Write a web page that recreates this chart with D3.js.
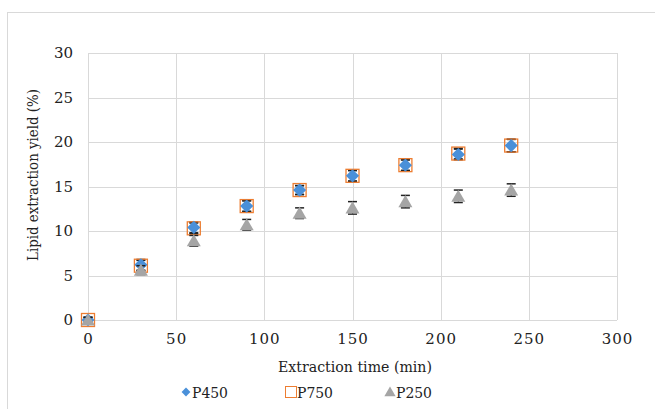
<!DOCTYPE html>
<html><head><meta charset="utf-8">
<script src="https://cdn.jsdelivr.net/npm/d3@7"></script>
<style>body{margin:0;background:#fff} svg text{font-family:"DejaVu Serif","Liberation Serif",serif;}</style>
</head><body><svg id="c" width="655" height="409"></svg>
<script>
const times = [0, 30, 60, 90, 120, 150, 180, 210, 240];
const p450 = [0, 6.2, 10.4, 12.8, 14.6, 16.2, 17.4, 18.6, 19.6];
const p450Err = [0.3, 0.6, 0.6, 0.6, 0.5, 0.6, 0.6, 0.6, 0.7];
const p750 = [0, 6.1, 10.3, 12.8, 14.6, 16.2, 17.4, 18.7, 19.6];
const p750Err = [0.3, 0.6, 0.6, 0.6, 0.5, 0.6, 0.6, 0.6, 0.7];
const p250 = [0, 5.6, 8.9, 10.7, 12.0, 12.6, 13.3, 13.9, 14.6];
const p250Err = [0.3, 0.5, 0.6, 0.6, 0.6, 0.7, 0.7, 0.7, 0.7];
const xTicks = [0, 50, 100, 150, 200, 250, 300];
const yTicks = [0, 5, 10, 15, 20, 25, 30];
const seriesNames = ["P450", "P750", "P250"];

const svg = d3.select("#c");
svg.append("rect").attr("x", 7.5).attr("y", 12.5).attr("width", 700).attr("height", 500)
  .attr("fill", "#fff").attr("stroke", "#d9d9d9");

const x = d3.scaleLinear().domain([0, 300]).range([88, 617]);
const y = d3.scaleLinear().domain([0, 30]).range([320, 53]);

const g = svg.append("g");
g.selectAll(".gy").data(yTicks).join("line")
  .attr("x1", x(0)).attr("x2", x(300)).attr("y1", d => Math.round(y(d)) + 0.5).attr("y2", d => Math.round(y(d)) + 0.5)
  .attr("stroke", "#d9d9d9").attr("stroke-width", 1);
g.selectAll(".gx").data(xTicks).join("line")
  .attr("y1", y(0)).attr("y2", y(30)).attr("x1", d => Math.round(x(d)) + 0.5).attr("x2", d => Math.round(x(d)) + 0.5)
  .attr("stroke", "#d9d9d9").attr("stroke-width", 1);

const xAxis = d3.axisBottom(x).tickValues(xTicks).tickSize(0).tickPadding(13);
const xa = svg.append("g").attr("transform", `translate(0,${y(0)})`).call(xAxis);
xa.select(".domain").remove();
xa.selectAll("text").attr("font-size", 15).attr("fill", "#222").attr("letter-spacing", "1px");

const yAxis = d3.axisLeft(y).tickValues(yTicks).tickSize(0).tickPadding(15);
const ya = svg.append("g").attr("transform", `translate(${x(0)},0)`).call(yAxis);
ya.select(".domain").remove();
ya.selectAll("text").attr("font-size", 15).attr("fill", "#222");
svg.selectAll("g").attr("font-family", null);

svg.append("text").attr("x", 355).attr("y", 372).attr("text-anchor", "middle")
  .attr("font-size", 15.5).attr("fill", "#222").attr("textLength", 154).attr("lengthAdjust", "spacingAndGlyphs")
  .text("Extraction time (min)");
svg.append("text").attr("transform", "translate(38,175) rotate(-90)").attr("text-anchor", "middle")
  .attr("font-size", 15.5).attr("fill", "#222").attr("textLength", 172).attr("lengthAdjust", "spacingAndGlyphs")
  .text("Lipid extraction yield (%)");

const blue = "#4a90d9", orange = "#ed7d31", gray = "#a5a5a5";
function errBars(vals, errs) {
  const eg = svg.append("g");
  times.forEach((t, i) => {
    const cx = x(t), y1 = y(vals[i] + errs[i]), y2 = y(vals[i] - errs[i]);
    eg.append("line").attr("x1", cx).attr("x2", cx).attr("y1", y1).attr("y2", y2).attr("stroke", "#222").attr("stroke-width", 1);
    eg.append("line").attr("x1", cx - 4.5).attr("x2", cx + 4.5).attr("y1", y1).attr("y2", y1).attr("stroke", "#222").attr("stroke-width", 1.5);
    eg.append("line").attr("x1", cx - 4.5).attr("x2", cx + 4.5).attr("y1", y2).attr("y2", y2).attr("stroke", "#222").attr("stroke-width", 1.5);
  });
}
errBars(p450, p450Err);
errBars(p750, p750Err);
svg.append("g").selectAll("rect").data(times).join("rect")
  .attr("x", d => x(d) - 6.5).attr("y", (d, i) => y(p750[i]) - 6.5).attr("width", 13).attr("height", 13)
  .attr("fill", "none").attr("stroke", orange).attr("stroke-width", 1.3);
svg.append("g").selectAll("path").data(times).join("path")
  .attr("transform", (d, i) => `translate(${x(d)},${y(p450[i])})`)
  .attr("d", d3.symbol(d3.symbolDiamond2, 110)).attr("fill", blue);
errBars(p250, p250Err);
svg.append("g").selectAll("path").data(times).join("path")
  .attr("transform", (d, i) => `translate(${x(d)},${y(p250[i]) + 1.5})`)
  .attr("d", d3.symbol(d3.symbolTriangle, 85)).attr("fill", gray);

const leg = svg.append("g").attr("fill", "#222");
const lx = [186, 291, 390];
leg.append("path").attr("transform", `translate(${lx[0]},392)`).attr("d", d3.symbol(d3.symbolDiamond2, 50)).attr("fill", blue);
leg.append("rect").attr("x", lx[1] - 5.5).attr("y", 386.5).attr("width", 11).attr("height", 11).attr("fill", "none").attr("stroke", orange);
leg.append("path").attr("transform", `translate(${lx[2]},393)`).attr("d", d3.symbol(d3.symbolTriangle, 55)).attr("fill", gray);
seriesNames.forEach((n, i) => {
  leg.append("text").attr("x", lx[i] + 6).attr("y", 398).attr("font-size", 15)
    .attr("textLength", 36).attr("lengthAdjust", "spacingAndGlyphs").text(n);
});
</script></body></html>
